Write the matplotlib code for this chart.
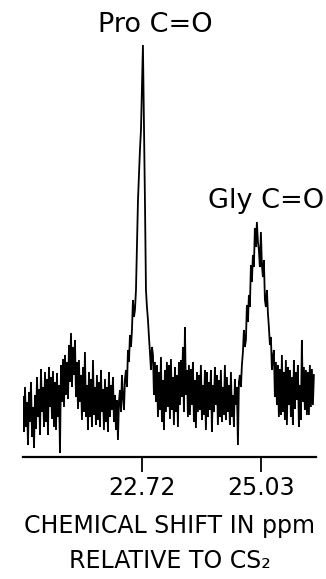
import matplotlib
matplotlib.use("Agg")
import matplotlib.pyplot as plt

plt.rcParams['font.family'] = ['DejaVu Sans']

# chemical shift (ppm)
shift_ppm = [
    20.410, 20.429, 20.449, 20.468, 20.488, 20.507, 20.526, 20.546, 20.565, 20.585,
    20.604, 20.624, 20.643, 20.662, 20.682, 20.701, 20.721, 20.740, 20.759, 20.779,
    20.798, 20.818, 20.837, 20.856, 20.876, 20.895, 20.914, 20.934, 20.953, 20.973,
    20.992, 21.012, 21.031, 21.051, 21.070, 21.089, 21.109, 21.128, 21.148, 21.167,
    21.187, 21.206, 21.225, 21.245, 21.264, 21.284, 21.303, 21.322, 21.342, 21.361,
    21.381, 21.400, 21.419, 21.439, 21.458, 21.478, 21.497, 21.516, 21.536, 21.555,
    21.575, 21.594, 21.613, 21.633, 21.652, 21.672, 21.691, 21.711, 21.730, 21.749,
    21.769, 21.788, 21.807, 21.827, 21.846, 21.866, 21.885, 21.905, 21.924, 21.943,
    21.963, 21.982, 22.002, 22.021, 22.040, 22.060, 22.079, 22.099, 22.118, 22.138,
    22.157, 22.176, 22.196, 22.215, 22.235, 22.254, 22.273, 22.293, 22.312, 22.332,
    22.351, 22.371, 22.390, 22.410, 22.429, 22.448, 22.468, 22.487, 22.507, 22.526,
    22.545, 22.565, 22.584, 22.604, 22.643, 22.681, 22.701,
    22.739, 22.778, 22.798, 22.817, 22.837, 22.856, 22.875, 22.895, 22.914,
    22.934, 22.953, 22.972, 22.992, 23.011, 23.031, 23.050, 23.069, 23.089, 23.108,
    23.128, 23.147, 23.166, 23.186, 23.205, 23.225, 23.244, 23.264, 23.283, 23.302,
    23.322, 23.341, 23.361, 23.380, 23.399, 23.419, 23.438, 23.458, 23.477, 23.497,
    23.516, 23.535, 23.555, 23.574, 23.594, 23.613, 23.632, 23.652, 23.671, 23.691,
    23.710, 23.729, 23.749, 23.768, 23.788, 23.807, 23.826, 23.846, 23.865, 23.885,
    23.904, 23.924, 23.943, 23.962, 23.982, 24.001, 24.021, 24.040, 24.059, 24.079,
    24.098, 24.118, 24.137, 24.156, 24.176, 24.195, 24.215, 24.234, 24.253, 24.273,
    24.292, 24.312, 24.331, 24.350, 24.370, 24.389, 24.409, 24.428, 24.448, 24.467,
    24.487, 24.506, 24.525, 24.545, 24.564, 24.584, 24.603, 24.622, 24.642, 24.661,
    24.681, 24.700, 24.719, 24.739, 24.758, 24.778, 24.797, 24.816, 24.836, 24.855,
    24.875, 24.894, 24.913, 24.933, 24.952, 24.972, 24.991, 25.010, 25.030, 25.049,
    25.069, 25.088, 25.108, 25.127, 25.147, 25.166, 25.185, 25.205, 25.224, 25.244,
    25.263, 25.282, 25.302, 25.321, 25.341, 25.360, 25.379, 25.399, 25.418, 25.438,
    25.457, 25.476, 25.496, 25.515, 25.535, 25.554, 25.574, 25.593, 25.612, 25.632,
    25.651, 25.671, 25.690, 25.709, 25.729, 25.748, 25.768, 25.787, 25.806, 25.826,
    25.845, 25.865, 25.884, 25.904, 25.923, 25.942, 25.962, 25.981, 26.001, 26.020,
    26.040, 26.059,
]

# signal intensity (arbitrary units)
intensity = [
    60, 25, 70, 30, 55, 12, 65, 35, 75, 20,
    50, 9, 62, 28, 80, 40, 68, 22, 88, 45,
    70, 30, 85, 35, 78, 22, 90, 50, 80, 38,
    86, 30, 75, 27, 84, 40, 72, 4, 92, 55,
    98, 50, 102, 62, 95, 58, 112, 75, 124, 70,
    110, 82, 117, 60, 95, 48, 97, 55, 82, 37,
    90, 45, 105, 40, 72, 27, 85, 40, 78, 30,
    97, 42, 70, 32, 82, 37, 75, 30, 87, 45,
    68, 27, 78, 35, 70, 25, 85, 40, 72, 47,
    80, 35, 62, 27, 57, 17, 55, 67, 45, 82,
    60, 47, 78, 87, 70, 107, 95, 122, 110, 127,
    157, 140, 147, 167, 257, 307, 327,
    412, 257, 167, 150, 137, 120, 105, 87, 110,
    102, 62, 95, 55, 92, 40, 85, 47, 100, 35,
    77, 27, 87, 45, 95, 50, 92, 38, 98, 47,
    80, 32, 90, 45, 82, 30, 95, 52, 97, 60,
    110, 45, 130, 62, 87, 40, 92, 42, 88, 52,
    95, 35, 77, 29, 85, 45, 82, 47, 92, 37,
    72, 42, 87, 27, 85, 40, 75, 47, 87, 25,
    72, 45, 90, 52, 82, 32, 77, 40, 87, 35,
    70, 42, 92, 37, 80, 45, 72, 32, 85, 40,
    62, 30, 78, 52, 70, 12, 75, 82, 70, 92,
    105, 127, 110, 117, 152, 135, 162, 150, 192, 175,
    202, 190, 229, 210, 235, 215, 207, 190, 225, 192,
    180, 197, 157, 150, 167, 144, 130, 112, 120, 87,
    100, 107, 60, 95, 52, 92, 40, 88, 42, 102,
    45, 85, 37, 97, 32, 90, 52, 87, 40, 80,
    32, 97, 48, 85, 57, 92, 30, 72, 37, 117,
    55, 90, 47, 87, 42, 85, 42, 92, 50, 88,
    52, 82,
]

tick_positions = [22.72, 25.03]
tick_labels = ["22.72", "25.03"]

peak_labels = ["Pro C=O", "Gly C=O"]
peak_label_x = [22.97, 25.13]
peak_label_y = [425, 249]

x_min, x_max = 20.41, 26.10

fig = plt.figure(figsize=(3.26, 5.79), dpi=100)
ax = fig.add_axes([23 / 326, (579 - 457) / 579, (316 - 23) / 326, 457 / 579])

ax.plot(shift_ppm, intensity, color="black", lw=1.3, solid_joinstyle="miter")

ax.set_xlim(x_min, x_max)
ax.set_ylim(0, 457)

for s in ["left", "right", "top"]:
    ax.spines[s].set_visible(False)
ax.spines["bottom"].set_linewidth(1.6)
ax.set_yticks([])
ax.set_xticks(tick_positions)
ax.set_xticklabels(tick_labels, fontsize=17)
ax.tick_params(axis="x", direction="out", length=11, width=1.3, pad=3)

for lab, lx, ly in zip(peak_labels, peak_label_x, peak_label_y):
    ax.text(lx, ly, lab, fontsize=19.5, ha="center", va="baseline", clip_on=False)

ax.set_xlabel("CHEMICAL SHIFT IN ppm\nRELATIVE TO CS\u2082", fontsize=17,
              linespacing=1.55, labelpad=10)

fig.savefig("out.png", dpi=100)
